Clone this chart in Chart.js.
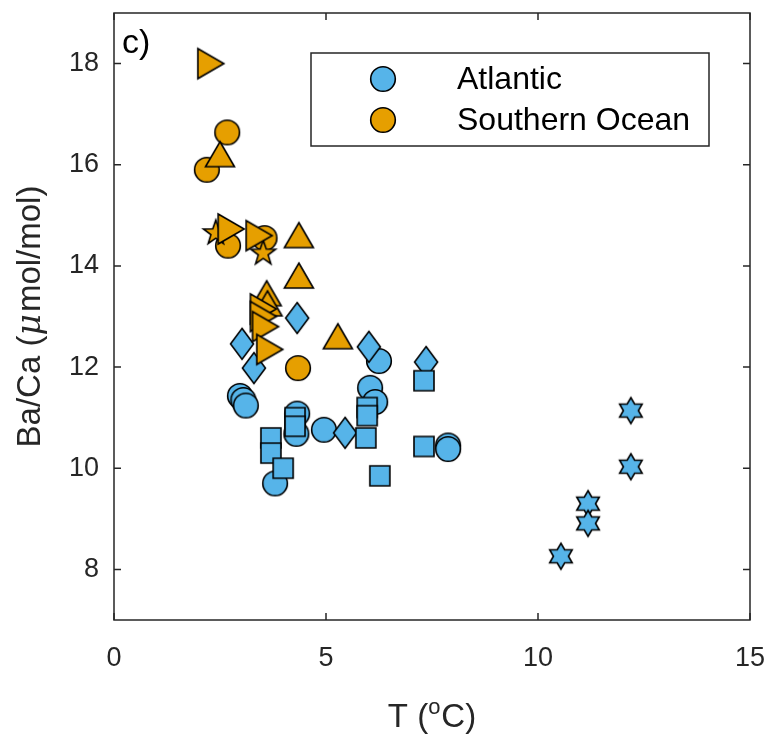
<!DOCTYPE html>
<html>
<head>
<meta charset="utf-8">
<script src="https://cdn.jsdelivr.net/npm/chart.js@4.4.1/dist/chart.umd.min.js"></script>
<style>
  body { margin: 0; background: #fff; }
  #wrap { width: 783px; height: 740px; position: relative; }
</style>
</head>
<body>
<div id="wrap"><canvas id="baCaChart"></canvas></div>
<script>
// Atlantic (blue)
const atlCircleT  = [2.97, 3.05, 3.11, 6.25, 6.04, 6.16, 4.32, 4.30, 4.95, 7.88, 7.88, 3.80];
const atlCircleBa = [11.43, 11.35, 11.24, 12.12, 11.59, 11.31, 11.08, 10.68, 10.76, 10.45, 10.38, 9.70];
const atlSquareT  = [4.27, 4.27, 3.70, 3.70, 3.99, 5.97, 5.97, 5.94, 6.27, 7.31, 7.31];
const atlSquareBa = [11.00, 10.83, 10.60, 10.30, 10.00, 11.20, 11.04, 10.60, 9.85, 11.73, 10.43];
const atlDiamondT  = [4.32, 3.02, 3.30, 5.45, 6.01, 7.36];
const atlDiamondBa = [12.97, 12.46, 11.98, 10.70, 12.40, 12.10];
const atlHexT  = [12.19, 12.19, 11.18, 11.18, 10.54];
const atlHexBa = [11.14, 10.03, 9.30, 8.91, 8.26];

// Southern Ocean (orange)
const soCircleT  = [2.67, 2.19, 2.69, 3.55, 4.34];
const soCircleBa = [16.64, 15.90, 14.40, 14.55, 11.98];
const soTriUpT  = [2.50, 4.36, 4.36, 3.60, 3.62, 5.28];
const soTriUpBa = [16.20, 14.60, 13.80, 13.45, 13.25, 12.60];
const soTriRightT  = [2.26, 2.74, 3.40, 3.50, 3.50, 3.55, 3.65];
const soTriRightBa = [18.00, 14.73, 14.60, 13.15, 13.00, 12.80, 12.35];
const soStarT  = [2.40, 3.52];
const soStarBa = [14.65, 14.25];

const xTickVals = [0, 5, 10, 15];
const yTickVals = [8, 10, 12, 14, 16, 18];
const legendNames = ['Atlantic', 'Southern Ocean'];

const BLUE = '#56B4E9';
const ORANGE = '#E69F00';
const INK = '#262626';

function starPath(ctx, n, rOut, rIn) {
    ctx.beginPath();
    for (let i = 0; i < n * 2; i++) {
        const r = i % 2 === 0 ? rOut : rIn;
        const a = -Math.PI / 2 + i * Math.PI / n;
        const px = r * Math.cos(a), py = r * Math.sin(a);
        if (i === 0) ctx.moveTo(px, py); else ctx.lineTo(px, py);
    }
    ctx.closePath();
}

function makeMarker(shape, color) {
    const c = document.createElement('canvas');
    c.width = 40; c.height = 40;
    const ctx = c.getContext('2d');
    ctx.translate(20, 20);
    ctx.fillStyle = color;
    ctx.strokeStyle = '#000';
    ctx.lineWidth = 1.6;
    ctx.lineJoin = 'miter';
    ctx.beginPath();
    if (shape === 'circle') {
        ctx.arc(0, 0, 12.3, 0, Math.PI * 2);
    } else if (shape === 'square') {
        ctx.rect(-10, -10, 20, 20);
    } else if (shape === 'diamond') {
        ctx.moveTo(0, -15.5); ctx.lineTo(11.5, 0); ctx.lineTo(0, 15.5); ctx.lineTo(-11.5, 0); ctx.closePath();
    } else if (shape === 'triUp') {
        ctx.moveTo(0, -13); ctx.lineTo(14.5, 12); ctx.lineTo(-14.5, 12); ctx.closePath();
    } else if (shape === 'triRight') {
        ctx.moveTo(-12, -15); ctx.lineTo(14, 0); ctx.lineTo(-12, 15); ctx.closePath();
    } else if (shape === 'star5') {
        starPath(ctx, 5, 13, 5.2);
    } else if (shape === 'star6') {
        starPath(ctx, 6, 13, 7.5);
    }
    ctx.fill();
    ctx.stroke();
    return c;
}

function pts(xs, ys) {
    return xs.map((x, i) => ({ x: x, y: ys[i] }));
}

function series(label, xs, ys, shape, color) {
    return {
        label: label,
        data: pts(xs, ys),
        pointStyle: makeMarker(shape, color),
        pointRadius: 12,
        pointHoverRadius: 12,
        backgroundColor: color,
        borderColor: '#000'
    };
}

// first dataset is drawn on top
const datasets = [
    series('Southern Ocean', soTriRightT, soTriRightBa, 'triRight', ORANGE),
    series('Southern Ocean', soStarT, soStarBa, 'star5', ORANGE),
    series('Southern Ocean', soTriUpT, soTriUpBa, 'triUp', ORANGE),
    series('Southern Ocean', soCircleT, soCircleBa, 'circle', ORANGE),
    series('Atlantic', atlSquareT, atlSquareBa, 'square', BLUE),
    series('Atlantic', atlDiamondT, atlDiamondBa, 'diamond', BLUE),
    series('Atlantic', atlCircleT, atlCircleBa, 'circle', BLUE),
    series('Atlantic', atlHexT, atlHexBa, 'star6', BLUE)
];

const legendMarkers = [makeMarker('circle', BLUE), makeMarker('circle', ORANGE)];

const decorPlugin = {
    id: 'decor',
    afterDraw(chart) {
        const ctx = chart.ctx;
        const a = chart.chartArea;
        const xs = chart.scales.x, ys = chart.scales.y;
        ctx.save();
        // frame
        ctx.strokeStyle = INK;
        ctx.lineWidth = 1.5;
        ctx.strokeRect(a.left, a.top, a.right - a.left, a.bottom - a.top);
        // inward ticks
        const tl = 7;
        ctx.beginPath();
        xTickVals.forEach(v => {
            const px = xs.getPixelForValue(v);
            ctx.moveTo(px, a.bottom); ctx.lineTo(px, a.bottom - tl);
            ctx.moveTo(px, a.top); ctx.lineTo(px, a.top + tl);
        });
        yTickVals.forEach(v => {
            const py = ys.getPixelForValue(v);
            ctx.moveTo(a.left, py); ctx.lineTo(a.left + tl, py);
            ctx.moveTo(a.right, py); ctx.lineTo(a.right - tl, py);
        });
        ctx.stroke();

        // panel label
        ctx.fillStyle = '#000';
        ctx.font = '34px "Liberation Sans", Arial, sans-serif';
        ctx.textBaseline = 'alphabetic';
        ctx.textAlign = 'left';
        ctx.fillText('c)', a.left + 8, a.top + 40);

        // x title: T (oC) with superscript o
        ctx.fillStyle = INK;
        const big = '33px "Liberation Sans", Arial, sans-serif';
        const small = '22px "Liberation Sans", Arial, sans-serif';
        ctx.font = big;
        const p1 = 'T (', p3 = 'C)';
        const w1 = ctx.measureText(p1).width, w3 = ctx.measureText(p3).width;
        ctx.font = small;
        const w2 = ctx.measureText('o').width + 1;
        const total = w1 + w2 + w3;
        let tx = (a.left + a.right) / 2 - total / 2;
        const tb = 727;
        ctx.font = big; ctx.fillText(p1, tx, tb); tx += w1;
        ctx.font = small; ctx.fillText('o', tx, tb - 13); tx += w2;
        ctx.font = big; ctx.fillText(p3, tx, tb);

        // y title: Ba/Ca (μmol/mol), μ italic
        ctx.translate(40, (a.top + a.bottom) / 2);
        ctx.rotate(-Math.PI / 2);
        const q1 = 'Ba/Ca (', q2 = 'μ', q3 = 'mol/mol)';
        const ital = 'italic 33px "DejaVu Serif", serif';
        ctx.font = big; const v1 = ctx.measureText(q1).width, v3 = ctx.measureText(q3).width;
        ctx.font = ital; const v2 = ctx.measureText(q2).width + 2;
        let ty = -(v1 + v2 + v3) / 2;
        ctx.font = big; ctx.fillText(q1, ty, 0); ty += v1;
        ctx.font = ital; ctx.fillText(q2, ty, 0); ty += v2;
        ctx.font = big; ctx.fillText(q3, ty, 0);
        ctx.restore();

        // legend box
        ctx.save();
        const lx = 311, ly = 53, lw = 398, lh = 93;
        ctx.fillStyle = '#fff';
        ctx.fillRect(lx, ly, lw, lh);
        ctx.strokeStyle = INK;
        ctx.lineWidth = 1.5;
        ctx.strokeRect(lx, ly, lw, lh);
        ctx.font = '32px "Liberation Sans", Arial, sans-serif';
        ctx.fillStyle = '#000';
        ctx.textBaseline = 'middle';
        legendNames.forEach((name, i) => {
            const cy = ly + 26 + i * 41;
            const m = legendMarkers[i];
            ctx.drawImage(m, 383 - m.width / 2, cy - m.height / 2);
            ctx.fillText(name, 457, cy + 1);
        });
        ctx.restore();
    }
};

const ctx = document.getElementById('baCaChart').getContext('2d');
const baCaChart = new Chart(ctx, {
    type: 'scatter',
    data: { datasets: datasets },
    options: {
        responsive: true,
        maintainAspectRatio: false,
        animation: false,
        layout: { padding: { left: 0, right: 33, top: 12, bottom: 0 } },
        plugins: {
            legend: { display: false },
            tooltip: { enabled: false }
        },
        scales: {
            x: {
                type: 'linear',
                min: 0,
                max: 15,
                afterBuildTicks: s => { s.ticks = xTickVals.map(v => ({ value: v })); },
                afterFit: s => { s.height = 120; s.paddingLeft = 0; s.paddingRight = 0; },
                grid: { display: false, drawTicks: false },
                border: { display: false },
                ticks: {
                    color: INK,
                    padding: 22,
                    maxRotation: 0,
                    font: { family: '"Liberation Sans", Arial, sans-serif', size: 27 }
                }
            },
            y: {
                type: 'linear',
                min: 7,
                max: 19,
                afterBuildTicks: s => { s.ticks = yTickVals.map(v => ({ value: v })); },
                afterFit: s => { s.width = 114; s.paddingTop = 0; s.paddingBottom = 0; },
                grid: { display: false, drawTicks: false },
                border: { display: false },
                ticks: {
                    color: INK,
                    padding: 15,
                    font: { family: '"Liberation Sans", Arial, sans-serif', size: 27 }
                }
            }
        }
    },
    plugins: [decorPlugin]
});
</script>
</body>
</html>
